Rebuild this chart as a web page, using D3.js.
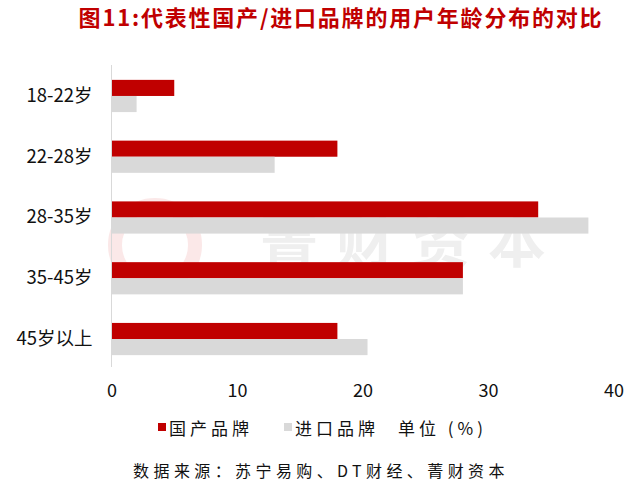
<!DOCTYPE html>
<html><head><meta charset="utf-8">
<script src="https://cdn.jsdelivr.net/npm/d3@7"></script>
<style>body{margin:0;background:#fff;}svg{display:block;}</style>
</head><body>
<svg id="c" width="640" height="490"></svg>
<script>
const categories = ["18-22岁","22-28岁","28-35岁","35-45岁","45岁以上"];
const domestic = [5, 18, 34, 28, 18];
const imported = [2, 13, 38, 28, 20.4];
const seriesNames = ["国产品牌","进口品牌"];
const xTicks = [0,10,20,30,40];
const title = "图11:代表性国产/进口品牌的用户年龄分布的对比";
const unitText = "单位 (%)";
const sourceText = "数据来源：苏宁易购、DT财经、菁财资本";
const watermark = "菁财资本";

const svg = d3.select("#c");
const font = "'Noto Sans CJK SC', 'Noto Sans', sans-serif";
const red = "#c00000", gray = "#d9d9d9";

const x = d3.scaleLinear().domain([0,40]).range([111.5, 613.5]);
const y = d3.scaleBand().domain(categories).range([66.5, 368.5]).paddingInner(0.47).paddingOuter(0.22);
const sub = d3.scaleBand().domain(seriesNames).range([0, y.bandwidth()]);

// watermark
svg.append("circle").attr("cx",155).attr("cy",245).attr("r",40).attr("fill","none")
  .attr("stroke","#fbe8e8").attr("stroke-width",14);
svg.append("text").attr("x",412).attr("y",262).attr("text-anchor","middle")
  .attr("font-family",font).attr("font-weight","bold").attr("font-size",58)
  .attr("fill","#efefef").attr("letter-spacing",18).text(watermark);

// title
svg.append("text").attr("x",341).attr("y",26).attr("text-anchor","middle")
  .attr("font-family",font).attr("font-weight","bold").attr("font-size",22)
  .attr("letter-spacing",1.8).attr("fill","#c00000").text(title);

const data = categories.map((c,i)=>({c, vals:[{s:seriesNames[0],v:domestic[i]},{s:seriesNames[1],v:imported[i]}]}));
const g = svg.append("g");
g.selectAll("g.cat").data(data).join("g").attr("class","cat")
  .attr("transform",d=>`translate(0,${y(d.c)})`)
  .selectAll("rect").data(d=>d.vals).join("rect")
  .attr("x",x(0)).attr("y",d=>sub(d.s)).attr("height",sub.bandwidth())
  .attr("width",d=>x(d.v)-x(0)).attr("fill",(d,i)=>i===0?red:gray);

// y axis line
svg.append("line").attr("x1",x(0)).attr("x2",x(0)).attr("y1",65).attr("y2",367)
  .attr("stroke","#d9d9d9").attr("stroke-width",1);

// category labels
const yAxis = d3.axisLeft(y).tickSize(0).tickPadding(19);
const ya = svg.append("g").attr("transform",`translate(${x(0)},0)`).call(yAxis);
ya.select(".domain").remove();
ya.selectAll("text").attr("font-family",font).attr("font-size",18.5).attr("fill","#111");

// x ticks
const xAxis = d3.axisBottom(x).tickValues(xTicks).tickSize(0).tickPadding(0);
const xa = svg.append("g").attr("transform",`translate(0,384)`).call(xAxis);
xa.select(".domain").remove();
xa.selectAll("text").attr("font-family",font).attr("font-size",18).attr("fill","#111");

// legend
const leg = svg.append("g").attr("font-family",font).attr("font-size",17).attr("fill","#111");
const legItems = [{n:seriesNames[0],c:red,x:158},{n:seriesNames[1],c:gray,x:284}];
legItems.forEach(it=>{
  leg.append("rect").attr("x",it.x).attr("y",423).attr("width",8).attr("height",8).attr("fill",it.c);
  leg.append("text").attr("x",it.x+11).attr("y",435).attr("letter-spacing",4).text(it.n);
});
leg.append("text").attr("x",398).attr("y",435).attr("letter-spacing",4).text(unitText);

// source
svg.append("text").attr("x",321).attr("y",477).attr("text-anchor","middle")
  .attr("font-family",font).attr("font-size",16).attr("letter-spacing",4.4).attr("fill","#111").text(sourceText);
</script>
</body></html>
